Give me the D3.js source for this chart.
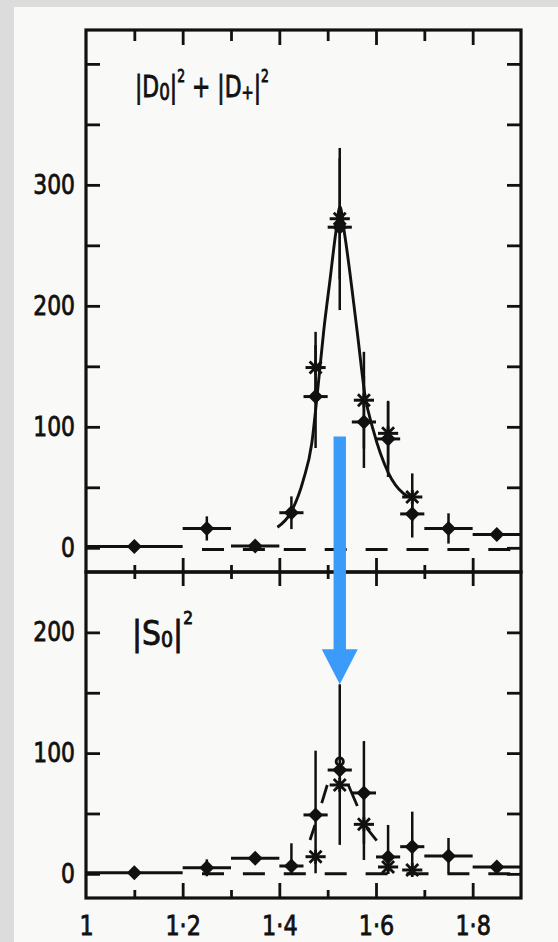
<!DOCTYPE html>
<html>
<head>
<meta charset="utf-8">
<script src="https://cdn.jsdelivr.net/npm/d3@7"></script>
<style>
  html, body { margin: 0; padding: 0; background: #dcdcdc; }
  svg { display: block; }
</style>
</head>
<body>
<svg id="chart" width="558" height="942"></svg>
<script>
// ---- mass bins (GeV) ----
const binLow  = [1.0, 1.2, 1.3, 1.4,  1.45,  1.5,  1.55,  1.6,  1.65,  1.7,  1.8];
const binHigh = [1.2, 1.3, 1.4, 1.45, 1.5,   1.55, 1.6,   1.65, 1.7,   1.8,  1.9];
const binMid  = [1.1, 1.25, 1.35, 1.425, 1.475, 1.525, 1.575, 1.625, 1.675, 1.75, 1.85];

// ---- upper panel: |D0|^2 + |D+|^2 ----
const dValues    = [1, 16, 1.5, 29, 125, 265, 104, 90, 28, 16, 11];
const dErrDown   = [0, 10, 0, 13.5, 42.5, 68.5, 38, 31.5, 19.5, 12.5, 0];
const dErrUp     = [0, 10, 0, 13.5, 42.5, 65.5, 38, 31.5, 19.5, 12.5, 0];
const dStar      = [null, null, null, null, 149, 272, 122, 94.6, 42, null, null];
const dStarErr   = [0, 0, 0, 0, 29.5, 50, 40, 26, 19.5, 0, 0];
// fitted resonance curve
const dCurveMass  = [1.396, 1.4235, 1.4496, 1.467, 1.478, 1.492, 1.505, 1.517, 1.5255, 1.5344, 1.5613, 1.5773, 1.5945, 1.6255, 1.6565, 1.677];
const dCurveValue = [17,    29,     56,     86,    125,   180,   222,   261,   282,    261,    178,    126,    97,     62,     45,     41];

// ---- lower panel: |S0|^2 ----
const sValues    = [1, 5, 13, 6.5, 48.8, 86, 67, 14, 22.5, 14.8, 5.7];
const sErrDown   = [0, 7, 4.4, 6, 48.3, 62, 42, 14, 22, 14.1, 0];
const sErrUp     = [0, 7, 4.4, 18.8, 53.2, 71, 43, 26.5, 29, 14.9, 0];
const sStar      = [null, null, null, null, 14.2, 73.6, 41, 5.7, 3.2, null, null];
const sStarErr   = [0, 0, 0, 0, 0, 0, 29.5, 0, 0, 0, 0];
const sHookMass  = [1.525];
const sHookValue = [93];
// dashed fitted-curve pieces visible between the markers
const sCurvePieces = [
  [[1.4635, 28], [1.4738, 40.5]],
  [[1.4877, 58.5], [1.4991, 73.6]],
  [[1.5427, 73.6], [1.5614, 56.2]],
  [[1.5808, 37.8], [1.6015, 27.5]]
];

// ---- reference (zero) dashes ----
const dashFrom = 1.24, dashTo = 1.9;
const dDashLevel = -1.5, sDashLevel = 0;

// ---- axes ----
const xTicksMajor = [1.2, 1.4, 1.6, 1.8];
const xTicksMinor = [1.1, 1.3, 1.5, 1.7];
const xTickLabels = [1.0, 1.2, 1.4, 1.6, 1.8];
const dTicks = [0, 50, 100, 150, 200, 250, 300, 350, 400];
const dTickLabels = [0, 100, 200, 300];
const sTicks = [0, 50, 100, 150, 200];
const sTickLabels = [0, 100, 200];

// ---- annotation arrow ----
const arrowMass = 1.525, arrowFromD = 92, arrowToS = 157;

const ink = "#111111";
const fontFam = "'DejaVu Sans', Verdana, sans-serif";
const svg = d3.select("#chart");

// paper
svg.append("rect").attr("x", 14).attr("y", 7).attr("width", 544).attr("height", 935).attr("fill", "#f9f9f7");

const x  = d3.scaleLinear().domain([1.0, 1.9]).range([86, 521]);
const yD = d3.scaleLinear().domain([-20, 428]).range([572, 30]);
const yS = d3.scaleLinear().domain([-20, 250]).range([898, 572]);

const xFmt = d => d === 1 ? "1" : d3.format(".1f")(d).replace(".", "\u00B7");

function squeeze(sel, sx) {
  sel.each(function () {
    const t = d3.select(this);
    const tx = +t.attr("x") || 0, ty = +t.attr("y") || 0;
    t.attr("x", null).attr("y", null)
     .attr("transform", `translate(${tx},${ty}) scale(${sx},1)`);
  });
}
function styleAxis(g) {
  g.select(".domain").remove();
  g.selectAll(".tick line").attr("stroke", ink).attr("stroke-width", 2.8);
  g.selectAll("text").attr("fill", ink).attr("font-family", fontFam).attr("font-size", 26)
    .attr("stroke", ink).attr("stroke-width", 0.8);
}

// ---- frames ----
[[30, 572], [572, 898]].forEach(([top, bot]) => {
  svg.append("rect").attr("x", x(1.0)).attr("y", top)
    .attr("width", x(1.9) - x(1.0)).attr("height", bot - top)
    .attr("fill", "none").attr("stroke", ink).attr("stroke-width", 3.2);
});

// x ticks: top frame (inward)
svg.append("g").attr("transform", `translate(0,${yD(428)})`)
  .call(d3.axisBottom(x).tickValues(xTicksMajor).tickSize(15).tickFormat("")).call(styleAxis);
svg.append("g").attr("transform", `translate(0,${yD(428)})`)
  .call(d3.axisBottom(x).tickValues(xTicksMinor).tickSize(11).tickFormat("")).call(styleAxis);
// separator: ticks crossing both ways
[d3.axisBottom, d3.axisTop].forEach(ax => {
  svg.append("g").attr("transform", `translate(0,${yD(-20)})`)
    .call(ax(x).tickValues(xTicksMajor).tickSize(14).tickFormat("")).call(styleAxis);
  svg.append("g").attr("transform", `translate(0,${yD(-20)})`)
    .call(ax(x).tickValues(xTicksMinor).tickSize(7).tickFormat("")).call(styleAxis);
});
// bottom frame: ticks up, labels below
svg.append("g").attr("transform", `translate(0,${yS(-20)})`)
  .call(d3.axisBottom(x).tickValues(xTicksMajor).tickSizeInner(-15).tickSizeOuter(0).tickFormat("")).call(styleAxis);
svg.append("g").attr("transform", `translate(0,${yS(-20)})`)
  .call(d3.axisBottom(x).tickValues(xTicksMinor).tickSizeInner(-8).tickSizeOuter(0).tickFormat("")).call(styleAxis);
const xLab = svg.append("g").attr("transform", `translate(0,${yS(-20)})`)
  .call(d3.axisBottom(x).tickValues(xTickLabels).tickSize(0).tickPadding(19).tickFormat(xFmt)).call(styleAxis);
squeeze(xLab.selectAll("text"), 0.86);

// y axes
function yAxes(scale, ticks, labels) {
  svg.append("g").attr("transform", `translate(${x(1.0)},0)`)
    .call(d3.axisLeft(scale).tickValues(ticks).tickSizeInner(-14).tickSizeOuter(0).tickFormat("")).call(styleAxis);
  svg.append("g").attr("transform", `translate(${x(1.9)},0)`)
    .call(d3.axisRight(scale).tickValues(ticks).tickSizeInner(-14).tickSizeOuter(0).tickFormat("")).call(styleAxis);
  const lab = svg.append("g").attr("transform", `translate(${x(1.0)},0)`)
    .call(d3.axisLeft(scale).tickValues(labels).tickSize(0).tickPadding(11).tickFormat(d3.format("d"))).call(styleAxis);
  squeeze(lab.selectAll("text"), 0.84);
}
yAxes(yD, dTicks, dTickLabels);
yAxes(yS, sTicks, sTickLabels);

// ---- data marks ----
function drawPanel(y, vals, eDown, eUp, star, starErr, dashLevel) {
  const g = svg.append("g");
  // zero reference dashes
  g.append("line")
    .attr("x1", x(dashFrom)).attr("x2", x(dashTo))
    .attr("y1", y(dashLevel)).attr("y2", y(dashLevel))
    .attr("stroke", ink).attr("stroke-width", 3).attr("stroke-dasharray", "22 18.9");

  const idx = d3.range(binMid.length);
  // alternative solution (stars)
  const si = idx.filter(i => star[i] !== null);
  g.selectAll(".sbar").data(si).join("line")
    .attr("x1", i => x(binLow[i]) + 2).attr("x2", i => x(binHigh[i]) - 2)
    .attr("y1", i => y(star[i])).attr("y2", i => y(star[i]))
    .attr("stroke", ink).attr("stroke-width", 3);
  g.selectAll(".serr").data(si.filter(i => starErr[i] > 0)).join("line")
    .attr("x1", i => x(binMid[i])).attr("x2", i => x(binMid[i]))
    .attr("y1", i => y(star[i] - starErr[i])).attr("y2", i => y(star[i] + starErr[i]))
    .attr("stroke", ink).attr("stroke-width", 2.5);
  g.selectAll(".scross").data(si).join("path")
    .attr("transform", i => `translate(${x(binMid[i])},${y(star[i])})`)
    .attr("d", "M-6,-6L6,6M-6,6L6,-6M0,-7L0,7")
    .attr("stroke", ink).attr("stroke-width", 2.8).attr("fill", "none");

  // main solution (diamonds)
  g.selectAll(".dbar").data(idx).join("line")
    .attr("x1", i => x(binLow[i])).attr("x2", i => x(binHigh[i]))
    .attr("y1", i => y(vals[i])).attr("y2", i => y(vals[i]))
    .attr("stroke", ink).attr("stroke-width", 3);
  g.selectAll(".derr").data(idx.filter(i => eDown[i] + eUp[i] > 0)).join("line")
    .attr("x1", i => x(binMid[i])).attr("x2", i => x(binMid[i]))
    .attr("y1", i => y(vals[i] - eDown[i])).attr("y2", i => y(vals[i] + eUp[i]))
    .attr("stroke", ink).attr("stroke-width", 2.5);
  g.selectAll(".dmark").data(idx).join("path")
    .attr("transform", i => `translate(${x(binMid[i])},${y(vals[i])})`)
    .attr("d", "M0,-7.5L7.5,0L0,7.5L-7.5,0Z")
    .attr("fill", ink);
  return g;
}

const gD = drawPanel(yD, dValues, dErrDown, dErrUp, dStar, dStarErr, dDashLevel);
const gS = drawPanel(yS, sValues, sErrDown, sErrUp, sStar, sStarErr, sDashLevel);

// fitted curve, upper panel
gD.append("path")
  .datum(d3.zip(dCurveMass, dCurveValue))
  .attr("d", d3.line().x(d => x(d[0])).y(d => yD(d[1])).curve(d3.curveMonotoneX))
  .attr("fill", "none").attr("stroke", ink).attr("stroke-width", 2.9);

// curve pieces, lower panel
gS.selectAll(".piece").data(sCurvePieces).join("path")
  .attr("d", d3.line().x(d => x(d[0])).y(d => yS(d[1])))
  .attr("fill", "none").attr("stroke", ink).attr("stroke-width", 2.8);
gS.selectAll(".hook").data(d3.zip(sHookMass, sHookValue)).join("circle")
  .attr("cx", d => x(d[0])).attr("cy", d => yS(d[1])).attr("r", 3.6)
  .attr("fill", "none").attr("stroke", ink).attr("stroke-width", 2.8);

// ---- panel labels ----
function label(parts, x0, base, width) {
  const t = svg.append("text").attr("font-family", fontFam).attr("fill", ink)
    .attr("stroke", ink).attr("stroke-width", 0.9);
  parts.forEach(p => t.append("tspan").attr("font-size", p.size).attr("dy", p.dy).text(p.text));
  const w = t.node().getComputedTextLength();
  t.attr("transform", `translate(${x0},${base}) scale(${width / w},1)`);
}
label([
  { text: "|D", size: 30, dy: 0 },
  { text: "0", size: 23, dy: 3 },
  { text: "|", size: 30, dy: -3 },
  { text: "2", size: 17, dy: -15 },
  { text: " + |D", size: 30, dy: 15 },
  { text: "+", size: 20, dy: 2 },
  { text: "|", size: 30, dy: -2 },
  { text: "2", size: 17, dy: -15 }
], 135, 97, 134);
label([
  { text: "|S", size: 33, dy: 0 },
  { text: "0", size: 21, dy: 2 },
  { text: "|", size: 33, dy: -2 },
  { text: "2", size: 17, dy: -21 }
], 132, 645, 61);

// ---- annotation arrow ----
const ax0 = x(arrowMass), ay0 = yD(arrowFromD), ay1 = yS(arrowToS);
svg.append("path")
  .attr("d", `M${ax0 - 6.2},${ay0}L${ax0 + 6.2},${ay0}L${ax0 + 6.2},${ay1 - 35}L${ax0 + 18},${ay1 - 35}L${ax0},${ay1}L${ax0 - 18},${ay1 - 35}L${ax0 - 6.2},${ay1 - 35}Z`)
  .attr("fill", "#3b9bf9");
</script>
</body>
</html>
